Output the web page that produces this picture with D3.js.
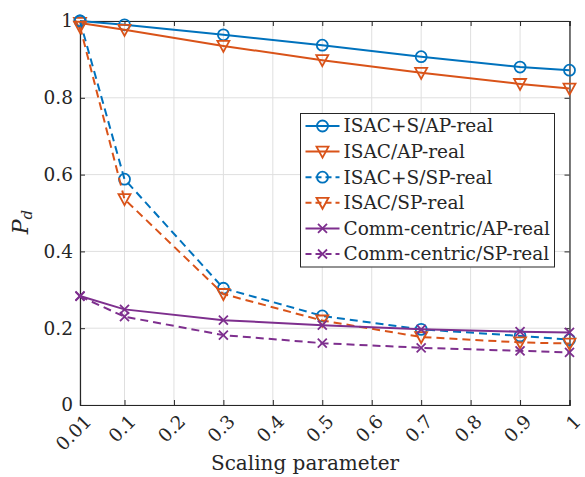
<!DOCTYPE html>
<html>
<head>
<meta charset="utf-8">
<script src="https://cdn.jsdelivr.net/npm/d3@7"></script>
<style>
  body { margin: 0; background: #fff; }
</style>
</head>
<body>
<div id="chart"></div>
<script>
// data
const xVals = [0.01, 0.1, 0.3, 0.5, 0.7, 0.9, 1];
const isacSAP = [1.0, 0.99, 0.964, 0.937, 0.907, 0.88, 0.872];
const isacAP = [0.995, 0.977, 0.935, 0.898, 0.865, 0.836, 0.824];
const isacSSP = [1.0, 0.588, 0.304, 0.232, 0.197, 0.18, 0.17];
const isacSP = [0.985, 0.536, 0.289, 0.22, 0.177, 0.163, 0.16];
const commAP = [0.284, 0.249, 0.221, 0.208, 0.197, 0.191, 0.189];
const commSP = [0.283, 0.23, 0.182, 0.161, 0.149, 0.141, 0.137];

const seriesNames = [
  'ISAC+S/AP-real',
  'ISAC/AP-real',
  'ISAC+S/SP-real',
  'ISAC/SP-real',
  'Comm-centric/AP-real',
  'Comm-centric/SP-real',
];
const xTicks = [0.01, 0.1, 0.2, 0.3, 0.4, 0.5, 0.6, 0.7, 0.8, 0.9, 1];
const yTicks = [0, 0.2, 0.4, 0.6, 0.8, 1];

const Blue = '#0072BD';
const Orange = '#D95319';
const Purple = '#7E2F8E';
const AxisColor = '#262626';
const GridColor = '#dfdfdf';
const Font = "'DejaVu Serif', serif";

const series = [
  { name: seriesNames[0], values: isacSAP, color: Blue, dash: null, marker: 'circle' },
  { name: seriesNames[1], values: isacAP, color: Orange, dash: null, marker: 'tri' },
  { name: seriesNames[2], values: isacSSP, color: Blue, dash: '8,5', marker: 'circle' },
  { name: seriesNames[3], values: isacSP, color: Orange, dash: '8,5', marker: 'tri' },
  { name: seriesNames[4], values: commAP, color: Purple, dash: null, marker: 'x' },
  { name: seriesNames[5], values: commSP, color: Purple, dash: '8,5', marker: 'x' },
];

const width = 585;
const height = 477;
const margin = { left: 80, right: 15.5, top: 21, bottom: 72 };

const svg = d3
  .select('#chart')
  .append('svg')
  .attr('width', width)
  .attr('height', height)
  .attr('font-family', Font);

const x = d3.scaleLinear().domain([0.01, 1]).range([margin.left, width - margin.right]);
const y = d3.scaleLinear().domain([0, 1]).range([height - margin.bottom, margin.top]);

// grid
const grid = svg.append('g').attr('class', 'grid');
grid
  .selectAll('.gx')
  .data(xTicks)
  .join('line')
  .attr('x1', (d) => x(d))
  .attr('x2', (d) => x(d))
  .attr('y1', y(0))
  .attr('y2', y(1))
  .attr('stroke', GridColor);
grid
  .selectAll('.gy')
  .data(yTicks)
  .join('line')
  .attr('y1', (d) => y(d))
  .attr('y2', (d) => y(d))
  .attr('x1', x(0.01))
  .attr('x2', x(1))
  .attr('stroke', GridColor);

// axes, ticks inward on all sides
const tickLen = 5;
const axisB = svg
  .append('g')
  .attr('transform', `translate(0,${y(0)})`)
  .call(d3.axisBottom(x).tickValues(xTicks).tickSize(-tickLen).tickFormat(''));
const axisT = svg
  .append('g')
  .attr('transform', `translate(0,${y(1)})`)
  .call(d3.axisTop(x).tickValues(xTicks).tickSize(-tickLen).tickFormat(''));
const axisL = svg
  .append('g')
  .attr('transform', `translate(${x(0.01)},0)`)
  .call(d3.axisLeft(y).tickValues(yTicks).tickSize(-tickLen).tickFormat(''));
const axisR = svg
  .append('g')
  .attr('transform', `translate(${x(1)},0)`)
  .call(d3.axisRight(y).tickValues(yTicks).tickSize(-tickLen).tickFormat(''));
[axisB, axisT, axisL, axisR].forEach((a) => {
  a.selectAll('path').attr('stroke', AxisColor).attr('stroke-width', 1.2);
  a.selectAll('line').attr('stroke', AxisColor);
});

// tick labels
svg
  .append('g')
  .selectAll('text')
  .data(yTicks)
  .join('text')
  .attr('x', x(0.01) - 7)
  .attr('y', (d) => y(d))
  .attr('dy', '0.35em')
  .attr('text-anchor', 'end')
  .attr('font-size', 18.5)
  .attr('fill', AxisColor)
  .text((d) => d3.format('~g')(d));

svg
  .append('g')
  .selectAll('text')
  .data(xTicks)
  .join('text')
  .attr('transform', (d) => `translate(${x(d) + 8},${y(0) + 13}) rotate(-45)`)
  .attr('dy', '0.35em')
  .attr('text-anchor', 'end')
  .attr('font-size', 18.5)
  .attr('fill', AxisColor)
  .text((d) => d3.format('~g')(d));

// axis labels
svg
  .append('text')
  .attr('x', 305)
  .attr('y', 470)
  .attr('text-anchor', 'middle')
  .attr('font-size', 20)
  .attr('fill', AxisColor)
  .text('Scaling parameter');

const yl = svg
  .append('text')
  .attr('transform', 'translate(28,222) rotate(-90)')
  .attr('text-anchor', 'middle')
  .attr('font-size', 22)
  .attr('fill', AxisColor);
yl.append('tspan').attr('font-style', 'italic').text('P');
yl.append('tspan').attr('font-style', 'italic').attr('font-size', 15).attr('dy', 4).text('d');

// markers
function drawMarker(g, type, color) {
  if (type === 'circle') {
    g.append('circle').attr('r', 5.5).attr('fill', 'none').attr('stroke', color).attr('stroke-width', 1.8);
  } else if (type === 'tri') {
    g.append('path')
      .attr('d', 'M-6,-5L6,-5L0,6Z')
      .attr('fill', 'none')
      .attr('stroke', color)
      .attr('stroke-width', 1.8);
  } else {
    g.append('path')
      .attr('d', 'M-4.5,-4.5L4.5,4.5M-4.5,4.5L4.5,-4.5')
      .attr('stroke', color)
      .attr('stroke-width', 1.8);
  }
}

// lines
const line = d3
  .line()
  .x((d) => x(d[0]))
  .y((d) => y(d[1]));

const plot = svg.append('g').attr('class', 'plot');
series.forEach((s) => {
  const pts = xVals.map((xv, i) => [xv, s.values[i]]);
  const g = plot.append('g');
  g.append('path')
    .datum(pts)
    .attr('d', line)
    .attr('fill', 'none')
    .attr('stroke', s.color)
    .attr('stroke-width', 2)
    .attr('stroke-dasharray', s.dash);
  g.selectAll('.m')
    .data(pts)
    .join('g')
    .attr('transform', (d) => `translate(${x(d[0])},${y(d[1])})`)
    .each(function () {
      drawMarker(d3.select(this), s.marker, s.color);
    });
});

// legend
const lg = svg.append('g').attr('transform', 'translate(300.5,113.5)');
lg.append('rect')
  .attr('width', 254)
  .attr('height', 153.5)
  .attr('fill', '#fff')
  .attr('stroke', AxisColor)
  .attr('stroke-width', 1);
series.forEach((s, i) => {
  const row = lg.append('g').attr('transform', `translate(0,${12.5 + i * 25.6})`);
  row.append('line')
    .attr('x1', 5)
    .attr('x2', 39)
    .attr('stroke', s.color)
    .attr('stroke-width', 2)
    .attr('stroke-dasharray', s.dash ? '6,4' : null);
  const m = row.append('g').attr('transform', 'translate(22,0)');
  drawMarker(m, s.marker, s.color);
  row.append('text')
    .attr('x', 43)
    .attr('dy', '0.35em')
    .attr('font-size', 18.5)
    .attr('fill', AxisColor)
    .text(s.name);
});
</script>
</body>
</html>
